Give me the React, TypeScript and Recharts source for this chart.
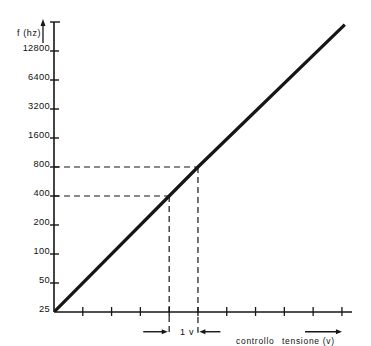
import React from 'react';
import { LineChart, Line, XAxis, YAxis, ReferenceLine } from 'recharts';

// control voltage (v) -> frequency (hz), one volt per octave
const volts = [0, 4, 5, 10.1];
const freqs = [25, 400, 800, 24000];

const freqTicks = [25, 50, 100, 200, 400, 800, 1600, 3200, 6400, 12800, 25600];
const voltTicks = [1, 2, 3, 4, 5, 6, 7, 8, 9, 10];

// dashed guides: frequency marked and the voltage it needs
const guideFreqs = [400, 800];
const guideVolts = [4, 5];

const INK = '#161616';
const FONT = '"Liberation Sans", Arial, sans-serif';

const data = volts.map((v, i) => ({ v, f: freqs[i] }));

const YTick = (props: any) => {
    const { x, y, payload } = props;
    const val = payload.value;
    if (val === 25600) {
        return <line x1={x - 4} x2={x + 6} y1={y} y2={y} stroke={INK} strokeWidth={1.4} />;
    }
    return (
        <g>
            {val !== 25 && <line x1={x - 4} x2={x + 5} y1={y} y2={y} stroke={INK} strokeWidth={1.4} />}
            <text x={x - 4} y={y - 0.5} textAnchor="end" fontSize={9.3} fill="#111" fontFamily={FONT} letterSpacing={0.3}>
                {val}
            </text>
        </g>
    );
};

const XTick = (props: any) => {
    const { x, payload } = props;
    const y = 312;
    return <line key={payload.value} x1={x} x2={x} y1={y - 5} y2={y + 4} stroke={INK} strokeWidth={1.3} />;
};

const Arrow = (props: any) => {
    const { x1, y1, x2, y2 } = props;
    const dir = x2 > x1 ? 1 : -1;
    return (
        <g>
            <line x1={x1} y1={y1} x2={x2 - dir * 4} y2={y2} stroke={INK} strokeWidth={1.4} />
            <polygon points={`${x2},${y2} ${x2 - dir * 6},${y2 - 2.5} ${x2 - dir * 6},${y2 + 2.5}`} fill={INK} />
        </g>
    );
};

const guideFloor = 15.2;
const arrowLevel = 15.6;

export default function App() {
    return (
        <div style={{ position: 'absolute', left: 0, top: 0, width: 371, height: 346, background: '#fff' }}>
            <LineChart width={371} height={346} data={data} margin={{ top: 22, right: 19, bottom: 24, left: 0 }}>
                <XAxis
                    dataKey="v"
                    type="number"
                    domain={[0, 10.35]}
                    ticks={voltTicks}
                    interval={0}
                    allowDataOverflow
                    height={10}
                    tickLine={false}
                    tick={XTick}
                    axisLine={{ stroke: INK, strokeWidth: 1.5 }}
                />
                <YAxis
                    dataKey="f"
                    scale="log"
                    type="number"
                    domain={[25, 25600]}
                    allowDataOverflow
                    ticks={freqTicks}
                    interval={0}
                    width={54}
                    tickLine={false}
                    tickSize={0}
                    tickMargin={0}
                    tick={<YTick />}
                    axisLine={{ stroke: INK, strokeWidth: 1.6 }}
                />
                {guideFreqs.map((f, i) => (
                    <ReferenceLine
                        key={'h' + f}
                        segment={[{ x: 0, y: f }, { x: guideVolts[i], y: f }]}
                        stroke={INK}
                        strokeWidth={1.2}
                        strokeDasharray="6 4"
                        ifOverflow="visible"
                    />
                ))}
                {guideFreqs.map((f, i) => (
                    <ReferenceLine
                        key={'v' + f}
                        segment={[{ x: guideVolts[i], y: f }, { x: guideVolts[i], y: guideFloor }]}
                        stroke={INK}
                        strokeWidth={1.2}
                        strokeDasharray="6 4"
                        ifOverflow="visible"
                    />
                ))}
                <ReferenceLine segment={[{ x: 3.1, y: arrowLevel }, { x: 3.95, y: arrowLevel }]} ifOverflow="visible" shape={<Arrow />} />
                <ReferenceLine segment={[{ x: 5.78, y: arrowLevel }, { x: 5.05, y: arrowLevel }]} ifOverflow="visible" shape={<Arrow />} />
                <ReferenceLine segment={[{ x: 8.72, y: arrowLevel }, { x: 10, y: arrowLevel }]} ifOverflow="visible" shape={<Arrow />} />
                <Line dataKey="f" stroke={INK} strokeWidth={3.2} dot={false} type="linear" isAnimationActive={false} />
            </LineChart>
            <svg width={371} height={346} style={{ position: 'absolute', left: 0, top: 0, pointerEvents: 'none' }}>
                <text x={17} y={36} fontSize={9} fill="#111" fontFamily={FONT} letterSpacing={0.6}>f (hz)</text>
                <line x1={43} y1={43} x2={43} y2={24} stroke={INK} strokeWidth={1.3} />
                <polygon points="43,19 40.5,26 45.5,26" fill={INK} />
                <text x={180} y={335} fontSize={9} fill="#111" fontFamily={FONT} letterSpacing={0.8}>1 v</text>
                <text x={236} y={344} fontSize={8.5} fill="#111" fontFamily={FONT} letterSpacing={0.7}>controllo</text>
                <text x={282} y={344} fontSize={8.5} fill="#111" fontFamily={FONT} letterSpacing={0.7}>tensione (v)</text>
            </svg>
        </div>
    );
}
